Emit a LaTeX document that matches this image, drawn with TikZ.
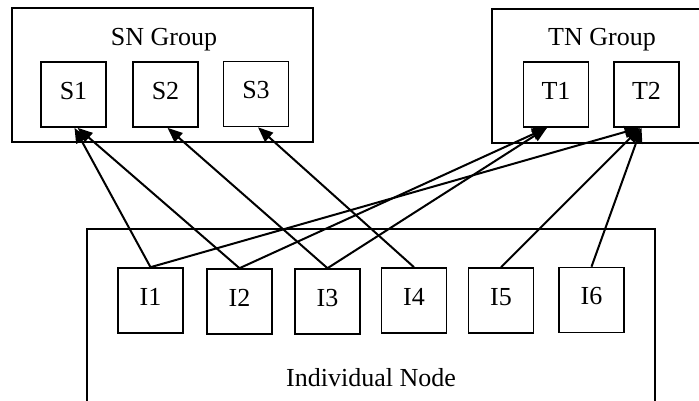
\documentclass[tikz,border=0pt]{standalone}
\usepackage{fontspec}
\setmainfont{Liberation Serif}
\usetikzlibrary{arrows.meta}
\begin{document}
\begin{tikzpicture}[x=1pt,y=-1pt,
  every node/.style={font=\fontsize{26}{31}\selectfont},
  unit/.style={draw, line width=1.6pt, minimum width=65pt, minimum height=65pt, inner sep=0pt, text depth=8pt},
  group/.style={draw, line width=1.6pt},
  lbl/.style={anchor=base, inner sep=0pt},
  link/.style={line width=2pt, -{Triangle[length=15pt,width=12pt]}, shorten >=0pt}]
\useasboundingbox (0,0) rectangle (699,400);
% group frames
\draw[group] (12,8) rectangle (313,142);
\draw[group] (492,9) rectangle (705,143);
\draw[group] (87,229) rectangle (655,410);
% labels
\node[lbl] (sng) at (164,45) {SN Group};
\node[lbl] (tng) at (602,45) {TN Group};
\node[lbl] (ind) at (371,386) {Individual Node};
% units
\node[unit] (S1) at (73.5,94.5) {S1};
\node[unit] (S2) at (165.5,94.5) {S2};
\node[unit] (S3) at (256,94) {S3};
\node[unit] (T1) at (556,94.5) {T1};
\node[unit] (T2) at (646.5,94.5) {T2};
\node[unit] (I1) at (150.5,300.5) {I1};
\node[unit] (I2) at (239.5,301.5) {I2};
\node[unit] (I3) at (327.5,301.5) {I3};
\node[unit] (I4) at (414,300.5) {I4};
\node[unit] (I5) at (501,300.5) {I5};
\node[unit] (I6) at (591.5,300) {I6};
% connectors
\draw[link] (I1.north) -- ([xshift=1pt]S1.south);
\draw[link] (I2.north) -- ([xshift=4pt]S1.south);
\draw[link] (I3.north) -- ([xshift=2pt]S2.south);
\draw[link] (I4.north) -- ([xshift=2pt]S3.south);
\draw[link] (I1.north) -- ([xshift=-7pt]T2.south);
\draw[link] (I2.north) -- ([xshift=-9pt]T1.south);
\draw[link] (I3.north) -- ([xshift=-9pt]T1.south);
\draw[link] (I5.north) -- ([xshift=-6pt]T2.south);
\draw[link] (I6.north) -- ([xshift=-5pt]T2.south);
\end{tikzpicture}
\end{document}
